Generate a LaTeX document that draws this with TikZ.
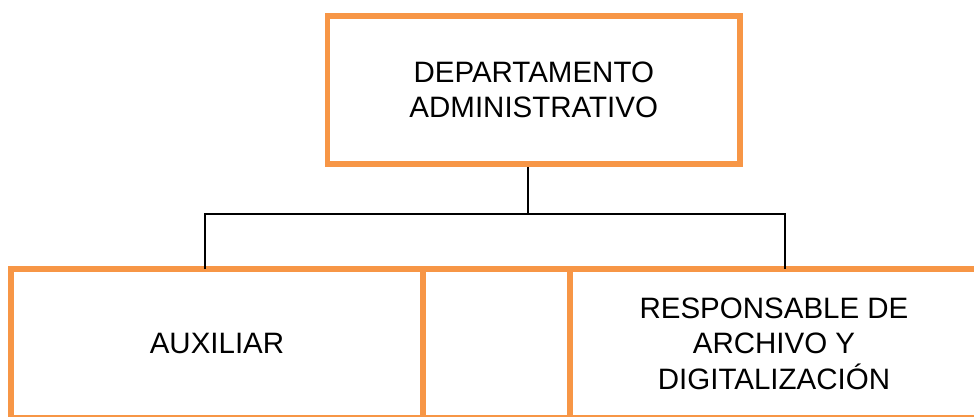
\documentclass[tikz,border=0pt]{standalone}
\usepackage{fontspec}
\setmainfont{Liberation Sans}
\definecolor{boxorange}{HTML}{F79646}
\begin{document}
\begin{tikzpicture}[x=1pt, y=-1pt,
  orgbox/.style={draw=boxorange, line width=5.5pt, align=center, inner sep=0pt,
    font=\fontsize{29.5}{35.5}\selectfont},
  link/.style={draw=black, line width=2pt}]

\useasboundingbox (0,0) rectangle (974,416);

% ----- Top box -----
\node[orgbox, minimum width=412.5pt, minimum height=148pt] (dept) at (533.75,90)
  {DEPARTAMENTO\\ADMINISTRATIVO};

% ----- Bottom row -----
\node[orgbox, minimum width=412pt, minimum height=149pt] (aux) at (217,343.5) {AUXILIAR};
\node[orgbox, minimum width=147pt, minimum height=149pt] (gap) at (496.5,343.5) {};
\node[orgbox, minimum width=408pt, minimum height=149pt] (resp) at (774,343.5)
  {RESPONSABLE DE\\ARCHIVO Y\\DIGITALIZACIÓN};

% ----- Connectors -----
\coordinate (hub) at (528,214);
\coordinate (jl) at (205,214);
\coordinate (jr) at (785,214);
\draw[link] (dept.south -| hub) -- (hub);
\draw[link] ([yshift=-2.75pt]aux.north -| jl) -- (jl) -- (jr) -- ([yshift=-2.75pt]resp.north -| jr);
\end{tikzpicture}
\end{document}
